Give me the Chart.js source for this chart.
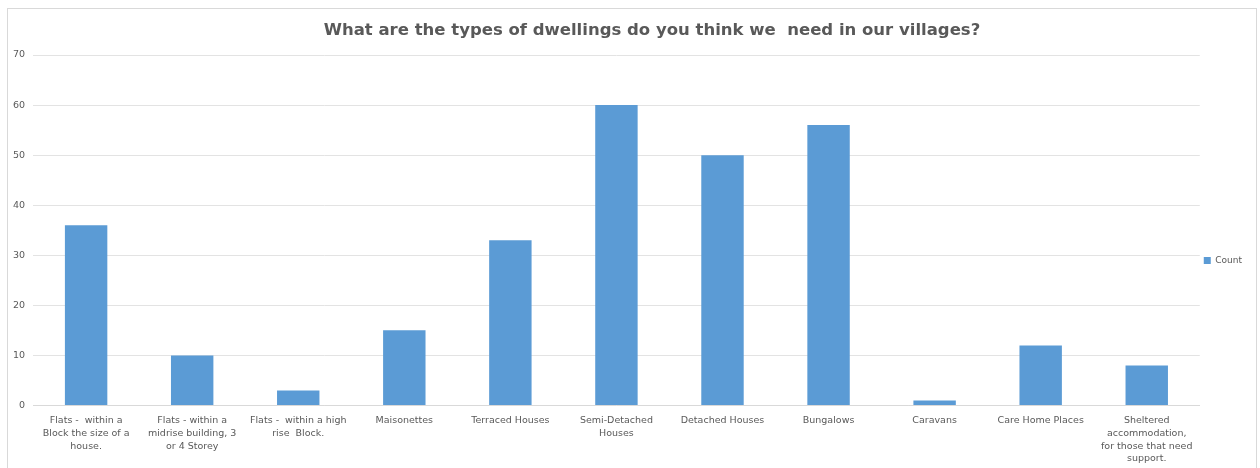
<!DOCTYPE html>
<html>
<head>
<meta charset="utf-8">
<script src="https://cdn.jsdelivr.net/npm/chart.js@4"></script>
<style>
  html, body { margin: 0; padding: 0; background: #fff; }
  #wrap { width: 1260px; height: 468px; }
</style>
</head>
<body>
<div id="wrap"><canvas id="myChart" width="1260" height="468"></canvas></div>
<script>
const title = 'What are the types of dwellings do you think we  need in our villages?'
const categories = [
    ['Flats -  within a', 'Block the size of a', 'house.'],
    ['Flats - within a', 'midrise building, 3', 'or 4 Storey'],
    ['Flats -  within a high', 'rise  Block.'],
    ['Maisonettes'],
    ['Terraced Houses'],
    ['Semi-Detached', 'Houses'],
    ['Detached Houses'],
    ['Bungalows'],
    ['Caravans'],
    ['Care Home Places'],
    ['Sheltered', 'accommodation,', 'for those that need', 'support.']
]
const counts = [36, 10, 3, 15, 33, 60, 50, 56, 1, 12, 8]
const yTicks = [0, 10, 20, 30, 40, 50, 60, 70]

const textColor = '#595959'
const font = 'DejaVu Sans'

// outer frame + title, drawn like the office chart (title sits off-centre)
const framePlugin = {
    id: 'frame',
    beforeDraw(chart) {
        const c = chart.ctx
        c.save()
        c.strokeStyle = '#d9d9d9'
        c.lineWidth = 1
        c.strokeRect(7.5, 8.5, 1249, 480)
        c.fillStyle = textColor
        c.font = `bold 16.5px "${font}"`
        c.textAlign = 'center'
        c.textBaseline = 'middle'
        c.fillText(title, 652, 31)
        c.restore()
    }
}

const ctx = document.getElementById('myChart')
new Chart(ctx, {
    type: 'bar',
    data: {
        labels: categories,
        datasets: [{
            label: 'Count',
            data: counts,
            backgroundColor: '#5b9bd5',
            borderWidth: 0,
            barPercentage: 0.4,
            categoryPercentage: 1
        }]
    },
    options: {
        responsive: false,
        animation: false,
        layout: { padding: { left: 5, right: 8, top: 55, bottom: 2 } },
        scales: {
            x: {
                grid: { display: false },
                border: { color: '#d9d9d9' },
                ticks: {
                    color: textColor,
                    font: { family: font, size: 9.5, lineHeight: 1.33 },
                    maxRotation: 0,
                    autoSkip: false,
                    padding: 1
                }
            },
            y: {
                min: 0,
                max: yTicks[yTicks.length - 1],
                afterBuildTicks(axis) {
                    axis.ticks = yTicks.map(v => ({ value: v }))
                },
                grid: { color: '#e3e3e3', drawTicks: false },
                border: { display: false },
                ticks: {
                    color: textColor,
                    font: { family: font, size: 9.5 },
                    padding: 8
                }
            }
        },
        plugins: {
            title: { display: false },
            legend: {
                position: 'right',
                labels: {
                    boxWidth: 7,
                    boxHeight: 7,
                    color: textColor,
                    font: { family: font, size: 9 },
                    padding: 4
                }
            },
            tooltip: { enabled: false }
        }
    },
    plugins: [framePlugin]
})
</script>
</body>
</html>
